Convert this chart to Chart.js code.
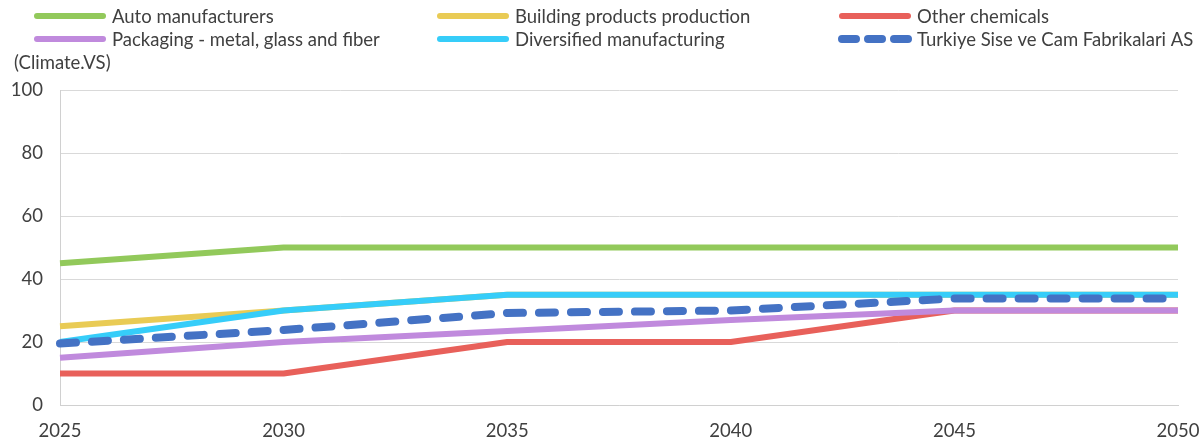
<!DOCTYPE html>
<html>
<head>
<meta charset="utf-8">
<script src="https://cdn.jsdelivr.net/npm/chart.js@4.4.1/dist/chart.umd.min.js"></script>
<style>
  html, body { margin: 0; padding: 0; background: #ffffff; }
  #wrap { width: 1201px; height: 443px; }
</style>
</head>
<body>
<div id="wrap"><canvas id="chart" width="1201" height="443"></canvas></div>
<script>
// 年份（横轴标签）
const years = ['2025', '2030', '2035', '2040', '2045', '2050'];

// 各行业的数值
const autoManufacturers = [45, 50, 50, 50, 50, 50];
const buildingProducts = [25, 30, 35, 35, 35, 35];
const otherChemicals = [10, 10, 20, 20, 30, 30];
const packaging = [15, 20, 23.5, 27, 30, 30];
const diversifiedManufacturing = [20, 30, 35, 35, 35, 35];
const turkiyeSise = [19.5, 23.8, 29.2, 30, 33.8, 33.8];

const seriesNames = [
    'Auto manufacturers',
    'Building products production',
    'Other chemicals',
    'Packaging - metal, glass and fiber',
    'Diversified manufacturing',
    'Turkiye Sise ve Cam Fabrikalari AS'
];
const seriesValues = [autoManufacturers, buildingProducts, otherChemicals, packaging, diversifiedManufacturing, turkiyeSise];
const seriesColors = ['#92c95b', '#e9cb55', '#e8605a', '#c08add', '#36cdf9', '#4472c4'];

const yTicks = [0, 20, 40, 60, 80, 100];
const yTitle = '(Climate.VS)';

const FONT = 'Lato, "Noto Sans", sans-serif';
const TEXT_COLOR = '#404040';

// 数据集：后面的系列画在上面
const datasets = seriesValues.map((values, i) => {
    const dashed = i === seriesValues.length - 1;
    return {
        label: seriesNames[i],
        data: values,
        borderColor: seriesColors[i],
        backgroundColor: seriesColors[i],
        borderWidth: dashed ? 8 : 6,
        borderDash: dashed ? [16, 16] : [],
        borderCapStyle: dashed ? 'round' : 'butt',
        borderJoinStyle: 'round',
        pointRadius: 0,
        tension: 0,
        fill: false,
        order: seriesValues.length - i
    };
});

// 自定义图例 + 纵轴标题（三列两行）
const legendPlugin = {
    id: 'columnLegend',
    afterDraw(chart) {
        const ctx = chart.ctx;
        const colX = [34, 437, 839];
        const rowY = [16, 39];
        const lineLen = 72;
        ctx.save();
        ctx.font = '18.5px ' + FONT;
        ctx.textBaseline = 'middle';
        ctx.textAlign = 'left';
        chart.data.datasets.forEach((ds, i) => {
            const x = colX[i % 3];
            const y = rowY[Math.floor(i / 3)];
            ctx.beginPath();
            ctx.strokeStyle = ds.borderColor;
            ctx.lineWidth = ds.borderWidth;
            ctx.lineCap = 'round';
            ctx.setLineDash(ds.borderDash.length ? [14, 12] : []);
            ctx.moveTo(x + 3, y);
            ctx.lineTo(x + lineLen - 3, y);
            ctx.stroke();
            ctx.setLineDash([]);
            ctx.fillStyle = TEXT_COLOR;
            ctx.fillText(ds.label, x + lineLen + 6, y + 1);
        });
        ctx.fillText(yTitle, 14, 63);
        ctx.restore();
    }
};

new Chart(document.getElementById('chart'), {
    type: 'line',
    data: {
        labels: years,
        datasets: datasets
    },
    options: {
        responsive: false,
        animation: false,
        devicePixelRatio: 1,
        layout: {
            padding: { top: 90, right: 23, bottom: 0, left: 0 }
        },
        scales: {
            x: {
                offset: false,
                grid: { display: false },
                border: { display: true, color: '#d0d0d0', width: 1 },
                afterFit(scale) {
                    scale.height = 38;
                    scale.paddingLeft = 0;
                    scale.paddingRight = 0;
                },
                ticks: {
                    color: TEXT_COLOR,
                    font: { family: FONT, size: 18.5 },
                    padding: 7,
                    maxRotation: 0
                }
            },
            y: {
                min: 0,
                max: 100,
                afterBuildTicks(scale) {
                    scale.ticks = yTicks.map(v => ({ value: v }));
                },
                afterFit(scale) {
                    scale.width = 60;
                },
                grid: {
                    color: '#d9d9d9',
                    lineWidth: 1,
                    drawTicks: false
                },
                border: { display: true, color: '#d0d0d0', width: 1 },
                ticks: {
                    color: TEXT_COLOR,
                    font: { family: FONT, size: 18.5 },
                    padding: 17
                }
            }
        },
        plugins: {
            legend: { display: false },
            title: { display: false },
            tooltip: { enabled: false }
        }
    },
    plugins: [legendPlugin]
});
</script>
</body>
</html>
